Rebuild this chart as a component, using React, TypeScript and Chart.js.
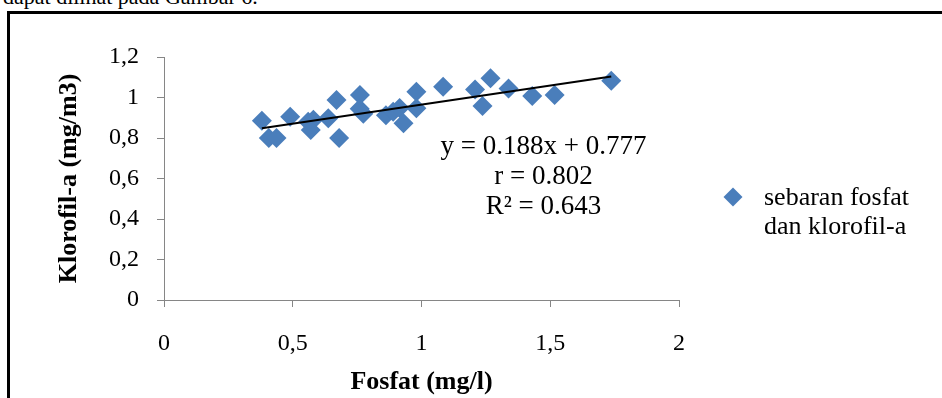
import React, { useEffect, useRef } from 'react';
import { Chart, registerables } from 'chart.js';

Chart.register(...registerables);

// ---- data ----
const fosfat = [
  0.38, 0.407, 0.437, 0.49, 0.56, 0.58, 0.57, 0.638, 0.67, 0.68, 0.761, 0.76, 0.774,
  0.862, 0.89, 0.915, 0.93, 0.98, 0.98, 1.084, 1.208, 1.237, 1.268, 1.338, 1.43, 1.517, 1.737,
];
const klorofil = [
  0.885, 0.8, 0.8, 0.905, 0.88, 0.89, 0.84, 0.897, 0.988, 0.8, 1.012, 0.945, 0.92,
  0.912, 0.93, 0.948, 0.873, 1.029, 0.947, 1.053, 1.04, 0.958, 1.095, 1.045, 1.007, 1.012, 1.083,
];
const trendSlope = 0.188;
const trendIntercept = 0.777;
const equationLines = ['y = 0.188x + 0.777', 'r = 0.802', 'R² = 0.643'];
const legendLines = ['sebaran fosfat', 'dan klorofil-a'];
const xTitle = 'Fosfat (mg/l)';
const yTitle = 'Klorofil-a (mg/m3)';
const xRange = [0, 2];
const yRange = [0, 1.2];
const xStep = 0.5;
const yStep = 0.2;
const pageText = 'dapat dilihat pada Gambar 6.';

const FONT = '"Liberation Serif", "Times New Roman", serif';
const BLUE = '#4A7EBB';
const AXIS = '#868686';

const fmt = (v: number) => String(Number(Number(v).toFixed(2))).replace('.', ',');

const overlay = {
  id: 'overlay',
  afterDraw(chart: any) {
    const { ctx, scales } = chart;
    const x = scales.x;
    const y = scales.y;
    ctx.save();
    // regression text
    ctx.fillStyle = '#000';
    ctx.font = `27px ${FONT}`;
    ctx.textAlign = 'center';
    ctx.textBaseline = 'middle';
    const cx = x.getPixelForValue(1.474);
    const cy = y.getPixelForValue(0.7555);
    equationLines.forEach((t, i) => ctx.fillText(t, cx, cy + i * 30));
    // legend
    const lx = 733;
    const ly = 197;
    const r = 9.5;
    ctx.fillStyle = BLUE;
    ctx.beginPath();
    ctx.moveTo(lx, ly - r);
    ctx.lineTo(lx + r, ly);
    ctx.lineTo(lx, ly + r);
    ctx.lineTo(lx - r, ly);
    ctx.closePath();
    ctx.fill();
    ctx.fillStyle = '#000';
    ctx.font = `26px ${FONT}`;
    ctx.textAlign = 'left';
    ctx.textBaseline = 'alphabetic';
    legendLines.forEach((t, i) => ctx.fillText(t, 764, 205 + i * 29));
    ctx.restore();
  },
};

export default function App() {
  const ref = useRef<HTMLCanvasElement | null>(null);

  useEffect(() => {
    if (!ref.current) return;
    const xMin = Math.min(...fosfat);
    const xMax = Math.max(...fosfat);
    const chart = new Chart(ref.current, {
      type: 'scatter',
      data: {
        datasets: [
          {
            label: 'trend',
            data: [
              { x: xMin, y: trendSlope * xMin + trendIntercept },
              { x: xMax, y: trendSlope * xMax + trendIntercept },
            ],
            showLine: true,
            borderColor: '#000',
            borderWidth: 2,
            pointRadius: 0,
            order: 1,
          },
          {
            label: legendLines.join(' '),
            data: fosfat.map((v, i) => ({ x: v, y: klorofil[i] })),
            pointStyle: 'rectRot',
            pointRadius: 10,
            backgroundColor: BLUE,
            borderColor: BLUE,
            borderWidth: 0,
            order: 2,
          },
        ],
      },
      options: {
        responsive: false,
        animation: false,
        devicePixelRatio: 1,
        layout: { padding: { left: 0, top: 57, right: 263, bottom: 0 } },
        plugins: { legend: { display: false }, tooltip: { enabled: false } },
        scales: {
          x: {
            type: 'linear',
            min: xRange[0],
            max: xRange[1],
            afterFit: (s: any) => {
              s.height = 98;
            },
            ticks: {
              stepSize: xStep,
              color: '#000',
              font: { family: FONT, size: 24 },
              padding: 22,
              callback: (v: any) => fmt(v),
            },
            grid: { drawOnChartArea: false, drawTicks: true, tickLength: 7, color: AXIS },
            border: { display: true, color: AXIS, width: 1 },
            title: {
              display: true,
              text: xTitle,
              color: '#000',
              font: { family: FONT, size: 26, weight: 'bold' },
              padding: { top: 1, bottom: 0 },
            },
          },
          y: {
            type: 'linear',
            min: yRange[0],
            max: yRange[1],
            afterFit: (s: any) => {
              s.width = 164;
            },
            ticks: {
              stepSize: yStep,
              color: '#000',
              font: { family: FONT, size: 24 },
              padding: 18,
              callback: (v: any) => fmt(v),
            },
            grid: { drawOnChartArea: false, drawTicks: true, tickLength: 7, color: AXIS },
            border: { display: true, color: AXIS, width: 1 },
            title: {
              display: true,
              text: yTitle,
              color: '#000',
              font: { family: FONT, size: 26, weight: 'bold' },
              padding: { top: 54, bottom: 0 },
            },
          },
        },
      },
      plugins: [overlay],
    });
    return () => chart.destroy();
  }, []);

  return (
    <div
      style={{
        position: 'fixed',
        left: 0,
        top: 0,
        width: 942,
        height: 398,
        overflow: 'hidden',
        background: '#fff',
      }}
    >
      <div
        style={{
          position: 'absolute',
          left: 3,
          top: -14,
          fontFamily: FONT,
          fontSize: 22,
          lineHeight: '22px',
          whiteSpace: 'nowrap',
          color: '#000',
        }}
      >
        {pageText}
      </div>
      <div
        style={{
          position: 'absolute',
          left: 7,
          top: 11,
          width: 1200,
          height: 600,
          border: '3px solid #000',
        }}
      />
      <canvas
        ref={ref}
        width={942}
        height={398}
        style={{ position: 'absolute', left: 0, top: 0, width: 942, height: 398 }}
      />
    </div>
  );
}
